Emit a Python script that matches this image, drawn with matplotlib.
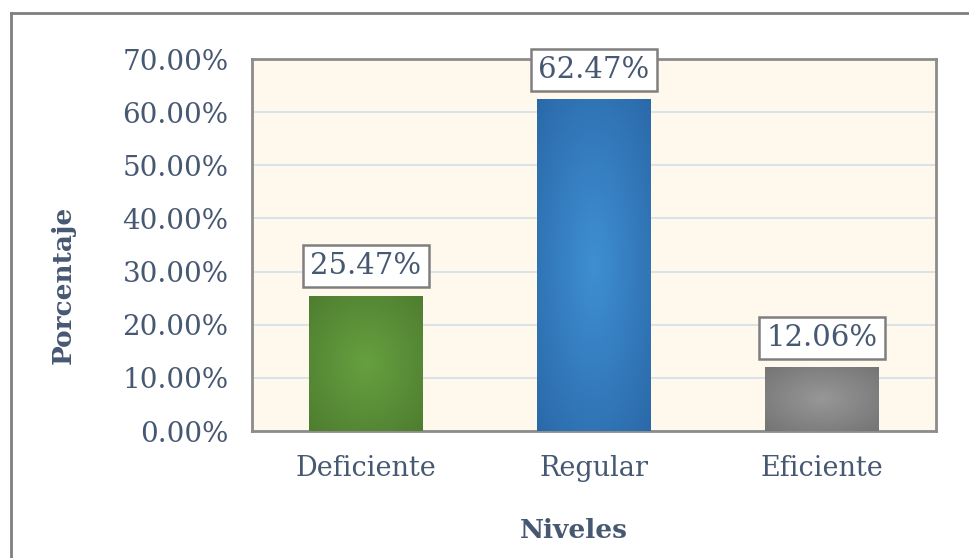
import numpy as np
import matplotlib
matplotlib.use("Agg")
import matplotlib.pyplot as plt
from matplotlib.lines import Line2D

categories = ["Deficiente", "Regular", "Eficiente"]
values = [25.47, 62.47, 12.06]
value_labels = ["25.47%", "62.47%", "12.06%"]
yticks = [0, 10, 20, 30, 40, 50, 60, 70]

# (center colour, edge colour) for radial gradient
bar_colors = [("#66A040", "#4E7D2F"), ("#3F8FD2", "#2A69A9"), ("#979797", "#747474")]

TXT = "#475872"
W, H = 969, 558
fig = plt.figure(figsize=(W / 100, H / 100), dpi=100)
fig.patch.set_facecolor("white")

# outer chart border (extends beyond right and bottom)
fig.add_artist(Line2D([11 / W, 11 / W], [0, 1 - 13 / H], color="#7F7F7F", lw=2, transform=fig.transFigure))
fig.add_artist(Line2D([11 / W, 1], [1 - 13 / H, 1 - 13 / H], color="#7F7F7F", lw=2, transform=fig.transFigure))

ax = fig.add_axes([252 / W, (H - 431) / H, 684 / W, 372 / H])
ax.set_facecolor("#FEF9EC")
x = np.arange(len(categories))
bars = ax.bar(x, values, width=0.5, color="none", zorder=3)

# radial gradients
yy, xx = np.mgrid[-1:1:200j, -1:1:200j]
r = np.clip(np.sqrt(xx ** 2 + yy ** 2) / np.sqrt(2), 0, 1)
for b, (c0, c1) in zip(bars, bar_colors):
    c0 = np.array(matplotlib.colors.to_rgb(c0))
    c1 = np.array(matplotlib.colors.to_rgb(c1))
    img = c0[None, None, :] * (1 - r[..., None]) + c1[None, None, :] * r[..., None]
    x0, y0 = b.get_x(), b.get_y()
    im = ax.imshow(img, extent=[x0, x0 + b.get_width(), y0, y0 + b.get_height()],
                   aspect="auto", zorder=3, interpolation="bilinear")
    im.set_clip_path(b)
ax.set_xlim(-0.5, 2.5)
ax.set_ylim(0, 70)

for xi, v, lab in zip(x, values, value_labels):
    ax.annotate(lab, (xi, v), xytext=(0, 11), textcoords="offset points",
                ha="center", va="bottom", fontsize=21, family="DejaVu Serif", color=TXT,
                bbox=dict(boxstyle="square,pad=0.24", fc="white", ec="#7F7F7F", lw=1.8), zorder=5)

ax.set_yticks(yticks)
ax.set_yticklabels([f"{t:.2f}%" for t in yticks])
ax.set_xticks(x)
ax.set_xticklabels(categories)
ax.tick_params(axis="y", length=0, pad=17, labelsize=20, labelcolor=TXT)
ax.tick_params(axis="x", length=0, pad=17, labelsize=19.5, labelcolor=TXT)
for t in ax.get_xticklabels() + ax.get_yticklabels():
    t.set_family("DejaVu Serif")
ax.grid(axis="y", color="#DCE2EA", lw=1.5, zorder=1)
ax.set_axisbelow(True)
for s in ax.spines.values():
    s.set_color("#8C8C8C")
    s.set_linewidth(2)

fig.text(63 / W, 1 - 285 / H, "Porcentaje", rotation=90, ha="center", va="center",
         fontsize=19, fontweight="bold", family="DejaVu Serif", color=TXT)
fig.text(574 / W, 1 - 530 / H, "Niveles", ha="center", va="center",
         fontsize=19, fontweight="bold", family="DejaVu Serif", color=TXT)

fig.savefig("out.png", dpi=100)
